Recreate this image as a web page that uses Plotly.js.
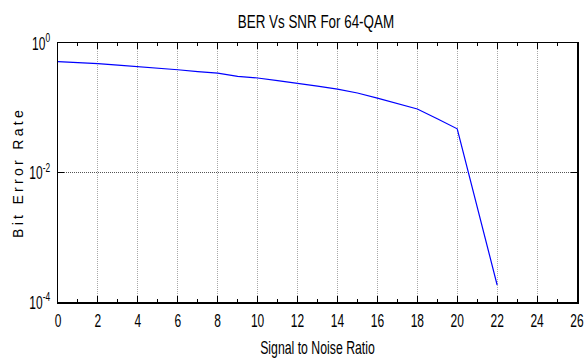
<!DOCTYPE html>
<html>
<head>
<meta charset="utf-8">
<script src="https://cdn.plot.ly/plotly-3.0.1.min.js"></script>
<style>html,body{margin:0;padding:0;background:#fff;}#chart{width:584px;height:361px;}</style>
</head>
<body>
<div id="chart"></div>
<script>
var snr = [0, 1, 2, 3, 4, 5, 6, 7, 8, 9, 10, 11, 12, 13, 14, 15, 16, 17, 18, 19, 20, 22];
var ber = [0.514, 0.50, 0.48, 0.454, 0.432, 0.408, 0.386, 0.362, 0.343, 0.305, 0.288, 0.263, 0.241, 0.216, 0.194, 0.169, 0.141, 0.116, 0.0955, 0.0676, 0.0473, 0.000183];
var xTicks = [0, 2, 4, 6, 8, 10, 12, 14, 16, 18, 20, 22, 24, 26];
var yTicks = [1e-4, 1e-2, 1];
var yTickText = ['10<sup>-4</sup>', '10<sup>-2</sup>', '10<sup>0</sup>'];

var font = "'Liberation Sans', Arial, sans-serif";

var trace = {
  x: snr, y: ber, type: 'scatter', mode: 'lines',
  line: {color: '#0000ff', width: 1.2},
  hoverinfo: 'skip'
};

var layout = {
  width: 584, height: 361,
  margin: {l: 58, r: 7, t: 43, b: 59},
  paper_bgcolor: '#fff', plot_bgcolor: '#fff',
  showlegend: false,
  title: {text: 'BER Vs SNR For 64-QAM', x: 0.541, xanchor: 'center', y: 0.94, yanchor: 'middle',
          font: {family: font, size: 13.4, color: '#000'}},
  xaxis: {
    range: [0, 26], tickvals: xTicks, ticktext: xTicks.map(String),
    ticks: 'inside', ticklen: 6, tickcolor: '#000', tickwidth: 1,
    showline: true, linecolor: '#000', linewidth: 1.5, mirror: 'ticks',
    showgrid: true, gridcolor: '#a8a8a8', griddash: '1px,1px', gridwidth: 1,
    zeroline: false, ticklabeloverflow: 'allow', ticklabelstandoff: 7,
    minor: {dtick: 1, tick0: 0, ticks: 'inside', ticklen: 3, tickcolor: '#000', showgrid: false},
    tickfont: {family: font, size: 12, color: '#000'},
    title: {text: 'Signal to Noise Ratio', standoff: 16, font: {family: font, size: 12.3, color: '#000'}}
  },
  yaxis: {
    type: 'log', range: [-4, 0], tickvals: yTicks, ticktext: yTickText,
    ticks: 'inside', ticklen: 6, tickcolor: '#000', tickwidth: 1,
    showline: true, linecolor: '#000', linewidth: 1.5, mirror: 'ticks',
    showgrid: true, gridcolor: '#555', griddash: '1px,1px', gridwidth: 1,
    zeroline: false, ticklabelstandoff: 4,
    tickfont: {family: font, size: 12, color: '#000'},
    title: {text: 'Bit Error Rate', standoff: 2, font: {family: font, size: 14, color: '#000'}}
  }
};

function stretch(sel, s) {
  document.querySelectorAll(sel).forEach(function (t) {
    var b = t.getBBox();
    var cy = b.y + b.height / 2;
    var tr = t.getAttribute('transform') || '';
    t.setAttribute('transform', tr + ' translate(0,' + cy + ') scale(1,' + s + ') translate(0,' + (-cy) + ')');
  });
}

Plotly.newPlot('chart', [trace], layout, {displayModeBar: false, staticPlot: true}).then(function () {
  stretch('.gtitle', 1.34);
  stretch('.xtick text', 1.5);
  stretch('.ytick text', 1.5);
  stretch('.xtitle', 1.45);
  document.querySelectorAll('.ytitle').forEach(function (t) { t.style.letterSpacing = '3.3px'; });
});
</script>
</body>
</html>
